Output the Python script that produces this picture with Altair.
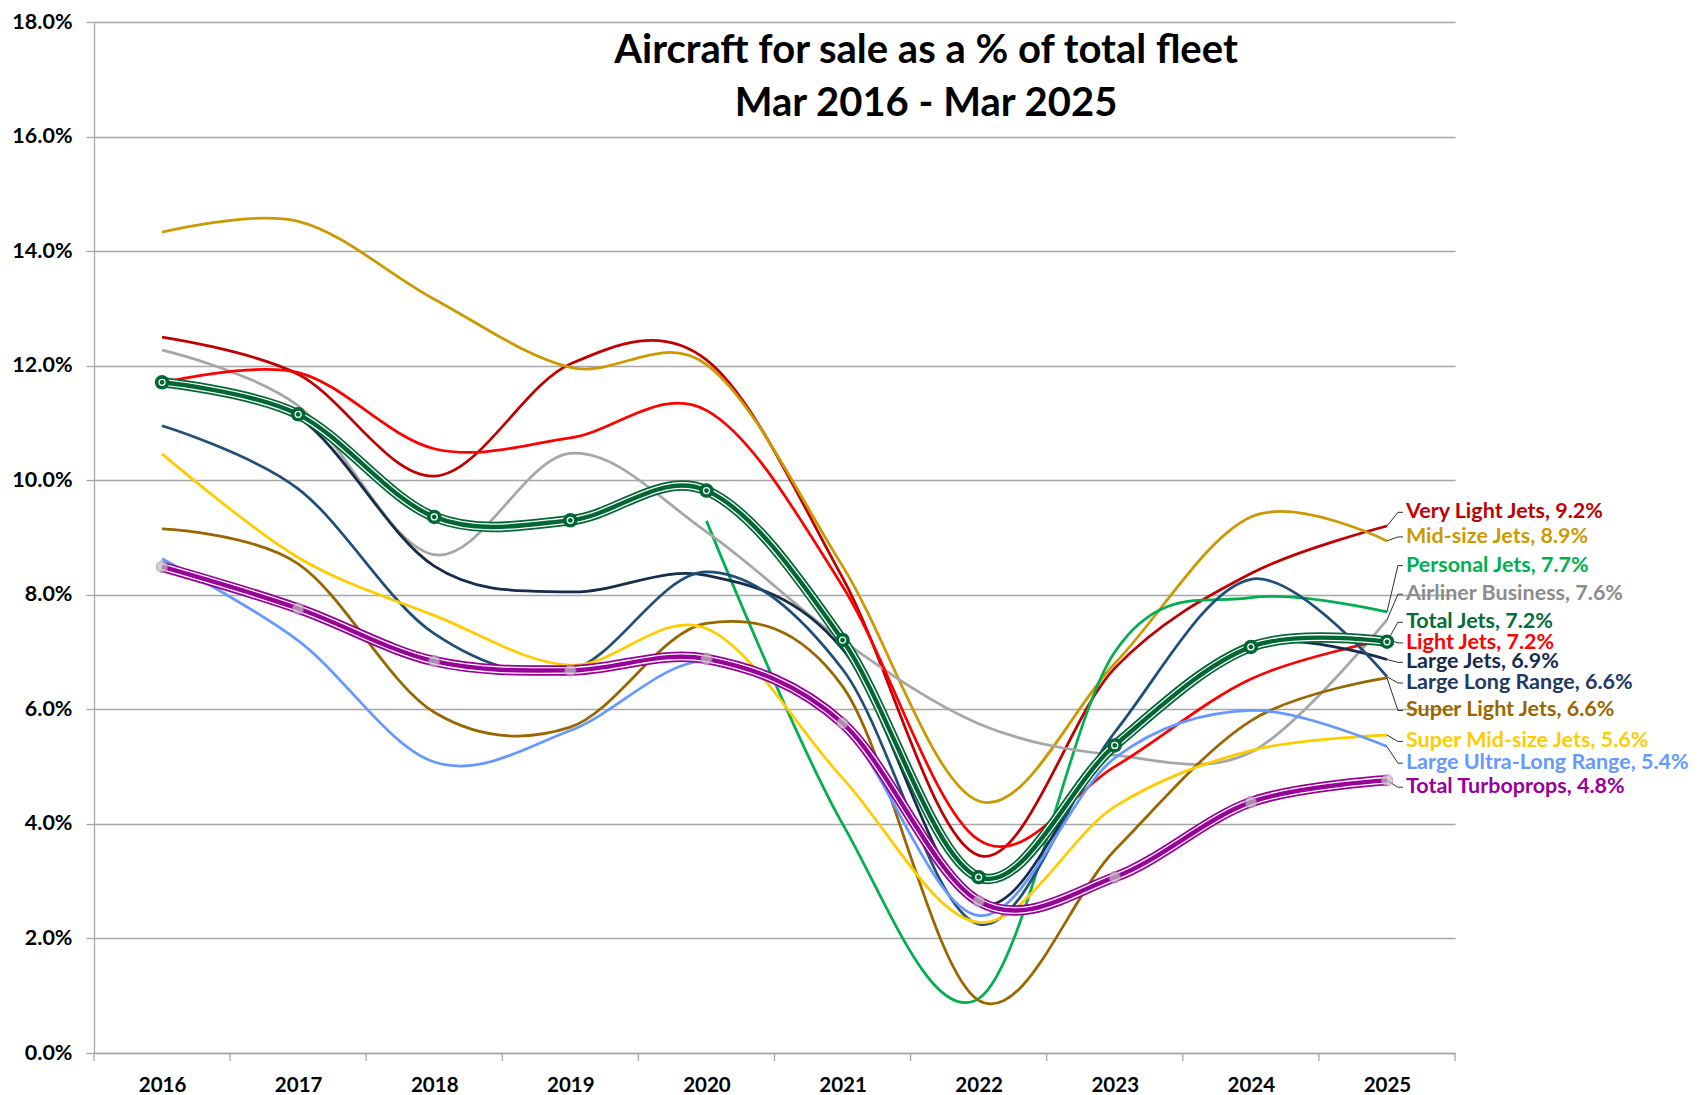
import altair as alt
import pandas as pd

# ---------------- data (values in %) ----------------
years = [2016, 2017, 2018, 2019, 2020, 2021, 2022, 2023, 2024, 2025]

very_light_jets = [12.50, 11.85, 10.07, 12.03, 12.10, 8.30, 3.45, 6.72, 8.37, 9.20]
mid_size_jets = [14.33, 14.52, 13.16, 11.97, 12.02, 8.50, 4.40, 6.80, 9.36, 8.94]
personal_jets = [None, None, None, None, 9.29, 4.00, 0.95, 7.00, 7.95, 7.70]
airliner_business = [12.27, 11.30, 8.70, 10.47, 9.10, 7.20, 5.75, 5.20, 5.25, 7.56]
total_jets = [11.71, 11.15, 9.36, 9.30, 9.82, 7.21, 3.07, 5.37, 7.09, 7.18]
light_jets = [11.70, 11.88, 10.55, 10.74, 11.22, 8.15, 3.72, 5.00, 6.53, 7.22]
large_jets = [11.65, 11.10, 8.50, 8.05, 8.34, 7.05, 2.60, 5.40, 7.12, 6.87]
large_long_range = [10.95, 9.85, 7.32, 6.68, 8.40, 6.70, 2.25, 5.60, 8.27, 6.57]
super_light_jets = [9.15, 8.54, 5.95, 5.69, 7.50, 6.40, 0.92, 3.54, 5.80, 6.55]
super_mid_size_jets = [10.46, 8.65, 7.64, 6.77, 7.41, 4.80, 2.28, 4.30, 5.28, 5.55]
large_ultra_long_range = [8.63, 7.20, 5.08, 5.63, 6.85, 5.70, 2.40, 5.15, 5.98, 5.35]
total_turboprops = [8.49, 7.76, 6.84, 6.68, 6.88, 5.76, 2.65, 3.07, 4.38, 4.76]

series_names = [
    "Very Light Jets", "Mid-size Jets", "Personal Jets", "Airliner Business",
    "Total Jets", "Light Jets", "Large Jets", "Large Long Range",
    "Super Light Jets", "Super Mid-size Jets", "Large Ultra-Long Range",
    "Total Turboprops",
]
series_values = [
    very_light_jets, mid_size_jets, personal_jets, airliner_business,
    total_jets, light_jets, large_jets, large_long_range,
    super_light_jets, super_mid_size_jets, large_ultra_long_range,
    total_turboprops,
]
label_texts = [
    "Very Light Jets, 9.2%", "Mid-size Jets, 8.9%", "Personal Jets, 7.7%",
    "Airliner Business, 7.6%", "Total Jets, 7.2%", "Light Jets, 7.2%",
    "Large Jets, 6.9%", "Large Long Range, 6.6%", "Super Light Jets, 6.6%",
    "Super Mid-size Jets, 5.6%", "Large Ultra-Long Range, 5.4%",
    "Total Turboprops, 4.8%",
]
# vertical placement of the end labels (in % units of the y axis)
label_y = [9.44, 9.01, 8.51, 8.01, 7.52, 7.16, 6.82, 6.46, 5.98, 5.44, 5.06, 4.64]

line_colors = [
    "#C00000", "#CC9900", "#00B050", "#A6A6A6", "#006633", "#FF0000",
    "#172B4D", "#1F4E79", "#996600", "#FFCC00", "#6699FF", "#990099",
]
text_colors = [
    "#C00000", "#CC9900", "#00B050", "#8C8C8C", "#036C38", "#FF0000",
    "#172B4D", "#1F3864", "#996600", "#FFCC00", "#6699FF", "#990099",
]

title_line1 = "Aircraft for sale as a % of total fleet"
title_line2 = "Mar 2016 - Mar 2025"

# ---------------- tables ----------------
rows = []
for name, vals in zip(series_names, series_values):
    for yr, v in zip(years, vals):
        if v is not None:
            rows.append({"series": name, "year": yr, "value": v})
df = pd.DataFrame(rows)

thin_names = [n for n in series_names if n not in ("Total Jets", "Total Turboprops")]
thin_colors = [c for n, c in zip(series_names, line_colors) if n in thin_names]
df_thin = df[df["series"].isin(thin_names)]
df_tj = df[df["series"] == "Total Jets"]
df_tt = df[df["series"] == "Total Turboprops"]

W, H = 1361, 1031
PX_PER_YEAR = W / 10.0
d1, d2, d3 = 11 / PX_PER_YEAR, 16 / PX_PER_YEAR, 19 / PX_PER_YEAR

lead_rows, lab_rows = [], []
for name, vals, lt, ly, tc in zip(series_names, series_values, label_texts, label_y, text_colors):
    end = vals[-1]
    lead_rows.append({"series": name, "k": 0, "x": 2025, "y": end})
    lead_rows.append({"series": name, "k": 1, "x": 2025 + d1, "y": ly})
    lead_rows.append({"series": name, "k": 2, "x": 2025 + d2, "y": ly})
    lab_rows.append({"series": name, "x": 2025 + d3, "y": ly, "label": lt, "tc": tc})
df_lead = pd.DataFrame(lead_rows)
df_lab = pd.DataFrame(lab_rows)

df_edges = pd.DataFrame({"edge": [2015.5 + i for i in range(11)]})

# ---------------- encodings ----------------
xscale = alt.Scale(domain=[2015.5, 2025.5], nice=False, zero=False)
yscale = alt.Scale(domain=[0, 18], nice=False, zero=True)

X = alt.X("year:Q", scale=xscale, title=None,
          axis=alt.Axis(values=years, format="d", ticks=False, grid=False,
                        labelPadding=22, labelOverlap=False, labelFlush=False,
                        labelFontSize=20.5,
                        domainColor="#A6A6A6", domainWidth=1.3))
Y = alt.Y("value:Q", scale=yscale, title=None,
          axis=alt.Axis(values=list(range(0, 19, 2)),
                        labelExpr="format(datum.value, '.1f') + '%'",
                        tickSize=8, tickColor="#A6A6A6", tickWidth=1.3,
                        grid=True, gridColor="#A6A6A6", gridWidth=1.3,
                        domainColor="#A6A6A6", domainWidth=1.3,
                        labelFontSize=21.5, labelPadding=14))

thin = alt.Chart(df_thin).mark_line(interpolate="cardinal", strokeWidth=2.75).encode(
    x=X, y=Y,
    color=alt.Color("series:N", scale=alt.Scale(domain=thin_names, range=thin_colors), legend=None),
)


def compound(data, color):
    enc = dict(x=alt.X("year:Q", scale=xscale), y=alt.Y("value:Q", scale=yscale))
    outer = alt.Chart(data).mark_line(interpolate="cardinal", strokeWidth=10.5, color=color).encode(**enc)
    mid = alt.Chart(data).mark_line(interpolate="cardinal", strokeWidth=7, color="white").encode(**enc)
    inner = alt.Chart(data).mark_line(interpolate="cardinal", strokeWidth=4.4, color=color).encode(**enc)
    return [outer, mid, inner]


tt_layers = compound(df_tt, "#990099")
tt_pts = alt.Chart(df_tt).mark_point(shape="circle", filled=True, size=130, color="#C0C0C0",
                                      stroke="#B070B0", strokeWidth=1).encode(
    x=alt.X("year:Q", scale=xscale), y=alt.Y("value:Q", scale=yscale))

tj_layers = compound(df_tj, "#006633")
tj_pts = alt.Chart(df_tj).mark_point(shape="circle", filled=True, size=210, color="#006633",
                                      opacity=1).encode(
    x=alt.X("year:Q", scale=xscale), y=alt.Y("value:Q", scale=yscale))
tj_ring = alt.Chart(df_tj).mark_point(shape="circle", filled=False, size=36, color="white",
                                       strokeWidth=1.3, opacity=1).encode(
    x=alt.X("year:Q", scale=xscale), y=alt.Y("value:Q", scale=yscale))

leaders = alt.Chart(df_lead).mark_line(color="#303030", strokeWidth=1).encode(
    x=alt.X("x:Q", scale=xscale), y=alt.Y("y:Q", scale=yscale),
    detail="series:N", order="k:Q")

labels = alt.Chart(df_lab).mark_text(align="left", baseline="middle", font="Lato",
                                     fontWeight="bold", fontSize=21.5).encode(
    x=alt.X("x:Q", scale=xscale), y=alt.Y("y:Q", scale=yscale),
    text="label:N", color=alt.Color("tc:N", scale=None))

xticks = alt.Chart(df_edges).mark_rule(color="#A6A6A6", strokeWidth=1.3).encode(
    x=alt.X("edge:Q", scale=xscale), y=alt.value(H), y2=alt.value(H + 8))

t1 = alt.Chart(pd.DataFrame({"t": [title_line1]})).mark_text(
    font="Lato", fontWeight="bold", fontSize=40, align="center", baseline="middle", color="black"
).encode(text="t:N", x=alt.value(832), y=alt.value(29))
t2 = alt.Chart(pd.DataFrame({"t": [title_line2]})).mark_text(
    font="Lato", fontWeight="bold", fontSize=40, align="center", baseline="middle", color="black"
).encode(text="t:N", x=alt.value(832), y=alt.value(82))

chart = alt.layer(
    thin, xticks, leaders, *tt_layers, tt_pts, *tj_layers, tj_pts, tj_ring, labels, t1, t2
).properties(
    width=W, height=H,
    padding={"left": 86, "top": 14, "right": 238, "bottom": 42},
    autosize=alt.AutoSizeParams(type="none"),
).configure_view(stroke=None).configure_axis(
    labelFont="Lato", labelFontWeight="bold", labelColor="black"
)

chart.save("out.html", embed_options={"renderer": "svg", "actions": False})
